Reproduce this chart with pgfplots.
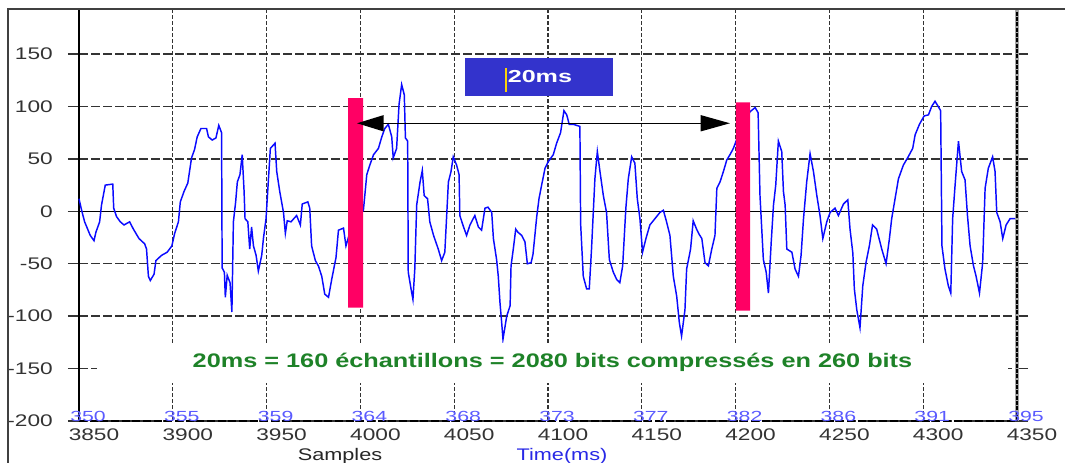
\documentclass[border=0pt]{standalone}
\usepackage{fontspec}
\setmainfont{Liberation Sans}
\newfontfamily\tickfont{Liberation Sans}[FakeStretch=1.35]
\newfontfamily\wfont{Liberation Sans}[FakeStretch=1.29]
\newfontfamily\boxfont{Liberation Sans}[FakeStretch=1.45]
\usepackage{pgfplots}
\pgfplotsset{compat=1.18}
\usetikzlibrary{arrows.meta}
\definecolor{wave}{RGB}{10,10,255}
\definecolor{barred}{RGB}{255,0,100}
\definecolor{boxblue}{RGB}{51,51,204}
\definecolor{greentext}{RGB}{30,130,40}
\definecolor{bluelab}{RGB}{90,90,255}
\definecolor{timeblue}{RGB}{40,40,230}
\begin{document}
\begin{tikzpicture}
\begin{axis}[
  at={(59.25pt,-6.75pt)}, anchor=north west,
  scale only axis, width=703.5pt, height=309pt,
  xmin=3850, xmax=4350, ymin=-200, ymax=193,
  clip=false,
  axis line style={draw=none},
  xtick={3850,3900,3950,4000,4050,4100,4150,4200,4250,4300,4350},
  xticklabels={3850,3900,3950,4000,4050,4100,4150,4200,4250,4300,4350},
  ytick={-200,-150,-100,-50,0,50,100,150},
  yticklabels={-200,-150,-100,-50,0,50,100,150},
  grid=major,
  grid style={black!80, line width=1pt, dash pattern=on 6.75pt off 2.25pt},
  x grid style={dash pattern=on 3pt off 1.5pt},
  tick align=outside,
  major tick length=8.25pt,
  xtick style={draw=none},
  ytick style={black!80, line width=1pt},
  ticklabel style={font=\tickfont\fontsize{12.6}{14}\selectfont, text=black!80, inner sep=0pt},
  xticklabel style={anchor=north, xshift=11.25pt, yshift=2.25pt},
  yticklabel style={anchor=east, xshift=-11.25pt},
  extra y ticks={0}, extra y tick labels={},
  extra tick style={grid style={solid, black, line width=1.2pt}, tick style={solid, black, line width=1.2pt}},
]
\draw[black, line width=1.2pt] (rel axis cs:0,0) -- (rel axis cs:0,1);
\draw[black, line width=1.5pt, dash pattern=on 6pt off 2pt] (rel axis cs:0,0) -- (rel axis cs:1,0);
\draw[black!35, line width=3.2pt] (rel axis cs:1,0) -- (rel axis cs:1,1);
\draw[black, line width=2pt, dash pattern=on 3pt off 1pt] (rel axis cs:1,0) -- (rel axis cs:1,1);

\addplot[wave, line width=1.1pt] coordinates {
(3850,12) (3851.4,1) (3853,-10) (3856,-23) (3858,-28) (3859,-20) (3861,-10) (3862,6) (3864,25) (3868,26)
(3868.5,3) (3870,-5) (3872,-10) (3874,-13) (3877,-10) (3879,-17) (3882,-26) (3885,-31) (3886,-36) (3887,-62)
(3888,-66) (3890,-60) (3891,-47) (3894,-42) (3897,-39) (3899.5,-33) (3901,-21) (3903,-10) (3904,9) (3906,19)
(3908,27) (3910,51) (3911.6,59) (3913,71) (3915,79) (3918,79) (3919,71) (3921,68) (3923,70) (3924.5,82)
(3926,75) (3926.3,-54) (3927.5,-58) (3928,-82) (3929,-61) (3930.5,-68) (3931.5,-96) (3932.3,-10) (3933.5,9)
(3934.4,28) (3935.8,35) (3937,54) (3938,19) (3938.5,-7) (3940,-10) (3941,-36) (3942,-15) (3943,-33) (3944.4,-42)
(3945.6,-57) (3947.4,-42) (3948.3,-26) (3949.7,-7) (3951,31) (3952,60) (3954.5,65) (3955.4,38) (3957,19) (3959,-1)
(3960,-21) (3961,-9) (3963,-10) (3966,-4) (3968,-13) (3969,7) (3972,9) (3973,3) (3974,-33) (3976,-47)
(3977.6,-52) (3979.4,-62) (3981,-79) (3983,-82) (3984.7,-65) (3987,-44) (3988.3,-18) (3991,-16) (3992.3,-33) (3996,-10)
(4001.6,1) (4003.4,35) (4005,44) (4007,54) (4009.6,60) (4011.4,71) (4013,79) (4014.9,83) (4016.7,71) (4017.5,51)
(4019.3,60) (4020.6,102) (4022,121) (4023.4,111) (4024,70) (4025.2,67) (4025.5,-58) (4027,-74) (4028,-84) (4029,-55)
(4030,6) (4031.8,28) (4033,39) (4034,15) (4035.8,12) (4037,-10) (4039,-23) (4041.5,-36) (4043.3,-47) (4045,-39)
(4046.9,28) (4048.3,38) (4049.5,52) (4051.3,44) (4052.6,35) (4053,-4) (4055,-15) (4056.6,-23) (4058.4,-13) (4061,-4)
(4062.9,-15) (4064.6,-18) (4066.4,3) (4068,4) (4070,-1) (4070.9,-26) (4072.6,-46) (4073.5,-62) (4074.4,-87) (4075.3,-106)
(4076,-122) (4078,-100) (4079.8,-90) (4080.3,-52) (4081.5,-36) (4082.8,-17) (4084,-20) (4086,-23) (4087.7,-29) (4089,-50)
(4091,-49) (4092,-41) (4094,-5) (4095.2,12) (4096.6,25) (4098.4,41) (4100,47) (4102.8,54) (4104.6,65) (4106.7,75)
(4108.5,96) (4110,92) (4111.3,83) (4113.5,83) (4117,81) (4117.4,-12) (4118.8,-62) (4120.6,-74) (4122,-74) (4123.2,-36)
(4125,31) (4126.3,57) (4127.7,38) (4129.5,15) (4131.2,-1) (4132.7,-46) (4134.8,-58) (4136.6,-65) (4138.3,-68) (4139.8,-52)
(4141.5,3) (4142.8,31) (4144.6,52) (4146.3,46) (4147.6,12) (4149,-7) (4150.4,-39) (4152.2,-26) (4154.3,-13) (4157,-7)
(4159.7,-1) (4161.5,1) (4163.2,-10) (4165,-23) (4166.8,-62) (4168.6,-81) (4170,-106) (4171.2,-119) (4173,-94) (4173.9,-55)
(4176,-36) (4177.4,-9) (4179.2,-17) (4180.6,-22) (4182,-26) (4183.7,-49) (4185.5,-52) (4187.3,-36) (4189,-23) (4190,22)
(4191.7,28) (4193.5,38) (4195.3,49) (4197,54) (4198.8,60) (4203,80) (4207.7,95) (4210.4,99) (4212,94) (4213,15)
(4214.8,-46) (4216.3,-58) (4217.5,-78) (4219,-29) (4220.2,6) (4221.4,25) (4222.8,67) (4224.6,57) (4225.5,19) (4226.4,6)
(4227.3,-36) (4230,-39) (4231.7,-55) (4233.5,-62) (4234.9,-42) (4236.2,-7) (4237.9,28) (4239.7,55) (4241.5,38) (4243.3,15)
(4245,-4) (4246.5,-26) (4248.6,-10) (4250.4,-1) (4253,3) (4254.8,-4) (4257.5,7) (4259.8,11) (4261,-17) (4262.5,-40)
(4263.3,-74) (4264.6,-94) (4266.3,-111) (4267.8,-71) (4269.5,-49) (4271.3,-33) (4273,-13) (4275.2,-17) (4277.9,-36) (4280.2,-50)
(4282,-26) (4283.2,-7) (4285,12) (4286.8,31) (4289.4,44) (4292,52) (4294.4,60) (4295.7,73) (4298,83) (4300.5,91)
(4302.8,92) (4304.5,100) (4306.3,105) (4308,100) (4309.3,96) (4310,-33) (4311.6,-55) (4313.4,-71) (4314.7,-78) (4315.7,-7)
(4317,25) (4318.8,67) (4320.5,38) (4322.3,30) (4323.6,-4) (4325,-33) (4326.8,-52) (4328.2,-62) (4330,-78) (4331.7,-49)
(4333,22) (4334.7,41) (4337,52) (4338.3,38) (4339.2,-1) (4341,-10) (4342.4,-26) (4344.2,-13) (4346.3,-7) (4349,-7)
};

\addplot[draw=none, fill=barred] coordinates {(3993.4,-91.8) (4001.4,-91.8) (4001.4,108) (3993.4,108) (3993.4,-91.8)};
\addplot[draw=none, fill=barred] coordinates {(4200.2,-94.6) (4207.7,-94.6) (4207.7,104) (4200.2,104) (4200.2,-94.6)};

\draw[black, line width=1.1pt, {Triangle[length=20pt,width=12pt]}-{Triangle[length=22pt,width=12pt]}] (axis cs:3998.2,84) -- (axis cs:4197,84);

\fill[boxblue] (axis cs:4055.8,110) rectangle (axis cs:4134.6,146);
\node[text=white, inner sep=0pt, font=\boxfont\bfseries\fontsize{13}{15}\selectfont] at (axis cs:4095.7,129) {20ms};
\draw[yellow!70!orange, line width=1.5pt] (axis cs:4077.6,113.8) -- (axis cs:4077.6,136.7);

\node[fill=white, inner sep=0pt, minimum width=683.25pt, minimum height=30pt, text=greentext, font=\wfont\bfseries\fontsize{14.7}{16}\selectfont] at (axis cs:4102.4,-144.4) {20ms = 160 échantillons = 2080 bits compressés en 260 bits};

\node[text=bluelab, anchor=south, inner sep=0pt, xshift=6.75pt, yshift=-0.75pt, font=\boxfont\fontsize{11}{12}\selectfont] at (axis cs:3850,-200) {350};
\node[text=bluelab, anchor=south, inner sep=0pt, xshift=6.75pt, yshift=-0.75pt, font=\boxfont\fontsize{11}{12}\selectfont] at (axis cs:3900,-200) {355};
\node[text=bluelab, anchor=south, inner sep=0pt, xshift=6.75pt, yshift=-0.75pt, font=\boxfont\fontsize{11}{12}\selectfont] at (axis cs:3950,-200) {359};
\node[text=bluelab, anchor=south, inner sep=0pt, xshift=6.75pt, yshift=-0.75pt, font=\boxfont\fontsize{11}{12}\selectfont] at (axis cs:4000,-200) {364};
\node[text=bluelab, anchor=south, inner sep=0pt, xshift=6.75pt, yshift=-0.75pt, font=\boxfont\fontsize{11}{12}\selectfont] at (axis cs:4050,-200) {368};
\node[text=bluelab, anchor=south, inner sep=0pt, xshift=6.75pt, yshift=-0.75pt, font=\boxfont\fontsize{11}{12}\selectfont] at (axis cs:4100,-200) {373};
\node[text=bluelab, anchor=south, inner sep=0pt, xshift=6.75pt, yshift=-0.75pt, font=\boxfont\fontsize{11}{12}\selectfont] at (axis cs:4150,-200) {377};
\node[text=bluelab, anchor=south, inner sep=0pt, xshift=6.75pt, yshift=-0.75pt, font=\boxfont\fontsize{11}{12}\selectfont] at (axis cs:4200,-200) {382};
\node[text=bluelab, anchor=south, inner sep=0pt, xshift=6.75pt, yshift=-0.75pt, font=\boxfont\fontsize{11}{12}\selectfont] at (axis cs:4250,-200) {386};
\node[text=bluelab, anchor=south, inner sep=0pt, xshift=6.75pt, yshift=-0.75pt, font=\boxfont\fontsize{11}{12}\selectfont] at (axis cs:4300,-200) {391};
\node[text=bluelab, anchor=south, inner sep=0pt, xshift=6.75pt, yshift=-0.75pt, font=\boxfont\fontsize{11}{12}\selectfont] at (axis cs:4350,-200) {395};
\end{axis}
\draw[black!75, line width=1.5pt] (6pt,-347.25pt) -- (6pt,-6.5pt) -- (798.75pt,-6.5pt);
\node[anchor=north, inner sep=0pt, text=black!85, font=\wfont\fontsize{12.6}{14}\selectfont] at (255pt,-336pt) {Samples};
\node[anchor=north, inner sep=0pt, text=timeblue, font=\wfont\fontsize{12.6}{14}\selectfont] at (421.5pt,-336pt) {Time(ms)};
\pgfresetboundingbox
\path[use as bounding box] (0pt,0pt) rectangle (798.75pt,-347.25pt);
\end{tikzpicture}
\end{document}
